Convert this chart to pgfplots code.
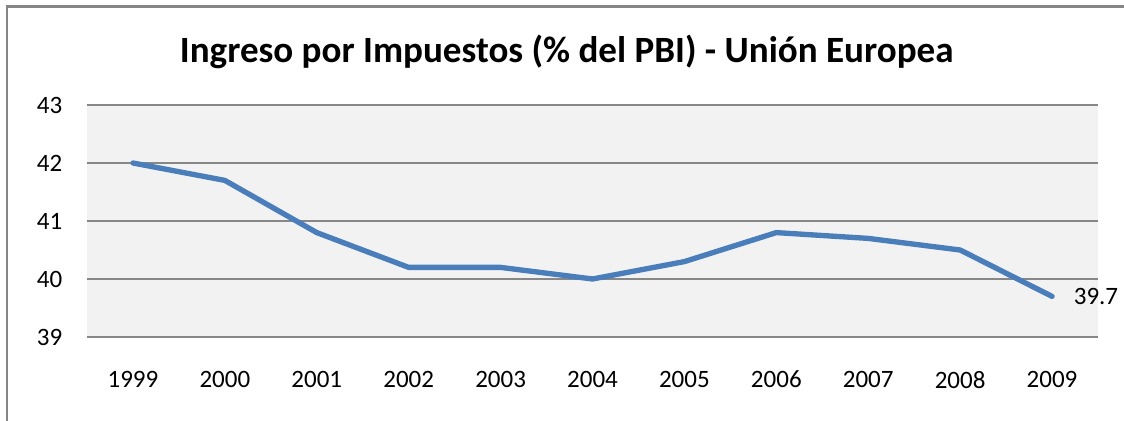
\documentclass[border=0pt]{standalone}
\usepackage{pgfplots}
\pgfplotsset{compat=1.18}
\usepackage{fontspec}
\setmainfont{Carlito}
\definecolor{lineblue}{HTML}{4A7EBB}
\definecolor{gridgray}{HTML}{878787}
\definecolor{bggray}{HTML}{F2F2F2}
\definecolor{bordergray}{HTML}{868686}
\begin{document}
\begin{tikzpicture}
\path[use as bounding box] (0pt,0pt) rectangle (843pt,315.75pt);
\draw[bordergray,line width=1.6pt] (5.25pt,0pt) -- (5.25pt,310.9pt) -- (843.5pt,310.9pt);
\node[font=\fontsize{27.8}{33}\selectfont\bfseries] at (425pt,276.5pt) {Ingreso por Impuestos (\% del PBI) - Unión Europea};
\begin{axis}[
  at={(65.25pt,63pt)}, anchor=south west,
  scale only axis, width=758.25pt, height=174pt,
  xmin=-0.5, xmax=10.5, ymin=39, ymax=43,
  xtick={0,...,10},
  xticklabels={1999,2000,2001,2002,2003,2004,2005,2006,2007,2008,2009},
  ytick={39,40,41,42,43},
  axis background/.style={fill=bggray},
  axis line style={draw=none},
  ymajorgrids, grid style={gridgray,line width=1.6pt},
  major tick length=0pt,
  tick label style={font=\fontsize{18.75}{22}\selectfont},
  /pgf/number format/assume math mode=true,
  yticklabel style={xshift=-15pt},
  xticklabel style={yshift=-22pt},
  clip=false,
]
\addplot[lineblue, line width=4pt, line cap=round, line join=round] coordinates {
(0,42.0) (1,41.7) (2,40.8) (3,40.2) (4,40.2) (5,40.0) (6,40.3) (7,40.8) (8,40.7) (9,40.5) (10,39.7)
} node[anchor=west, xshift=11pt, font=\fontsize{18.75}{22}\selectfont, text=black] {39.7};
\end{axis}
\end{tikzpicture}
\end{document}
